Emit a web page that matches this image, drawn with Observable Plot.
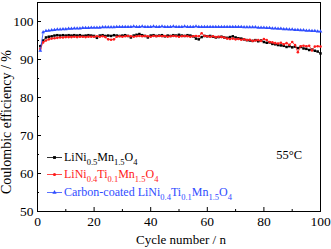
<!DOCTYPE html>
<html><head><meta charset="utf-8">
<script src="https://cdn.jsdelivr.net/npm/d3@7"></script>
<script src="https://cdn.jsdelivr.net/npm/@observablehq/plot@0.6"></script>
<style>
html,body{margin:0;padding:0;background:#fff;}
#chart{position:relative;width:331px;height:249px;}
</style></head>
<body><div id="chart"></div>
<script>
const cycles = d3.range(1, 101);
const lnmo = [93.5,95.0,95.8,96.0,96.1,96.3,96.4,96.3,96.4,96.3,
96.4,96.3,96.4,96.3,96.4,96.2,96.3,96.4,96.3,96.2,
95.7,96.3,96.4,96.2,96.3,96.2,96.4,96.3,96.2,96.3,
96.4,96.2,95.8,96.3,96.5,96.7,96.4,96.2,95.8,96.3,
96.4,96.2,96.3,96.4,96.1,96.3,96.2,96.4,96.3,96.5,
96.3,96.2,96.4,96.3,96.1,95.5,95.3,95.9,96.2,96.1,
96.2,96.0,95.8,95.9,96.0,95.8,95.7,95.9,96.1,95.8,
95.6,95.5,95.3,95.1,95.0,94.9,95.1,94.8,95.0,94.6,
94.4,94.5,94.1,94.0,93.8,93.7,93.6,93.3,93.5,93.2,
93.4,93.0,93.3,92.9,92.8,92.5,92.6,92.3,92.1,91.6];
const lntmo = [92.8,94.5,95.0,95.3,95.5,95.6,95.7,95.8,95.8,95.9,
95.9,95.9,96.0,95.9,96.0,96.0,95.9,96.0,96.0,96.0,
96.1,96.0,96.1,95.9,95.3,95.2,95.3,96.0,96.1,96.0,
96.1,96.2,96.1,96.0,96.1,96.2,96.1,96.2,96.1,96.0,
96.2,96.1,96.2,96.1,96.2,96.0,96.1,96.2,96.1,96.0,
96.1,96.2,96.1,96.0,96.1,96.2,96.1,96.9,96.2,96.1,
96.0,96.1,95.9,96.0,95.9,95.8,95.5,95.4,95.5,95.3,
95.4,95.2,95.3,95.1,95.2,94.9,95.0,95.1,94.9,95.4,
95.1,94.6,94.5,94.3,94.2,94.4,94.0,94.3,93.9,94.6,
93.8,91.9,93.5,93.6,93.5,93.6,92.4,93.4,93.5,93.4];
const carbon = [92.3,97.2,97.5,97.6,97.7,97.8,97.9,97.9,98.0,98.0,
98.1,98.1,98.2,98.2,98.2,98.3,98.3,98.3,98.4,98.4,
98.4,98.4,98.5,98.5,98.5,98.5,98.5,98.6,98.6,98.6,
98.6,98.6,98.6,98.7,98.6,98.6,98.7,98.6,98.6,98.6,
98.7,98.6,98.6,98.7,98.6,98.6,98.6,98.7,98.6,98.6,
98.6,98.7,98.6,98.6,98.6,98.7,98.6,98.6,98.6,98.6,
98.6,98.6,98.6,98.6,98.6,98.6,98.6,98.6,98.6,98.6,
98.6,98.6,98.5,98.5,98.5,98.5,98.5,98.4,98.4,98.4,
98.3,98.3,98.2,98.2,98.1,98.1,98.0,98.0,97.9,97.9,
97.8,97.8,97.7,97.7,97.6,97.6,97.5,97.5,97.4,97.4];
const xMajor = [0,20,40,60,80,100];
const xMinor = [10,30,50,70,90];
const yMajor = [50,60,70,80,90,100];
const yMinor = [55,65,75,85,95];
const xTitle = "Cycle number / n";
const yTitle = "Coulombic efficiency / %";
const tempLabel = "55°C";

const W = 331, H = 249, mL = 37, mR = 11, mT = 2, mB = 38;
const pw = W - mL - mR, ph = H - mT - mB;
const font = "Liberation Serif, Times New Roman, serif";
const cBlack = "#000000", cRed = "#ff1a1a", cBlue = "#2f4dff";

const mk = (arr) => cycles.map((c, i) => ({c, v: arr[i]}));
const d1 = mk(lnmo), d2 = mk(lntmo), d3b = mk(carbon);

const plot = Plot.plot({
  width: W, height: H,
  marginLeft: mL, marginRight: mR, marginTop: mT, marginBottom: mB,
  style: {fontFamily: font, fontSize: "13.5px", background: "#fff", color: "#000"},
  x: {domain: [0, 100]},
  y: {domain: [50, 105]},
  marks: [
    Plot.frame({stroke: "#000", strokeWidth: 1}),
    Plot.axisX({ticks: xMajor, tickSize: 0, tickPadding: 5, label: null, fontSize: 13.5}),
    Plot.axisY({ticks: yMajor, tickSize: 0, tickPadding: 4, label: null, fontSize: 13.5}),
    Plot.tickX(xMajor, {x: d => d, insetTop: ph - 4, stroke: "#000"}),
    Plot.tickX(xMinor, {x: d => d, insetTop: ph - 2, stroke: "#000"}),
    Plot.tickY(yMajor, {y: d => d, insetRight: pw - 4, stroke: "#000"}),
    Plot.tickY(yMinor, {y: d => d, insetRight: pw - 2, stroke: "#000"}),
    Plot.line(d1, {x: "c", y: "v", stroke: cBlack, strokeWidth: 0.8}),
    Plot.dot(d1, {x: "c", y: "v", symbol: "square", r: 1.4, fill: cBlack}),
    Plot.line(d2, {x: "c", y: "v", stroke: cRed, strokeWidth: 0.8}),
    Plot.dot(d2, {x: "c", y: "v", symbol: "circle", r: 1.3, fill: cRed}),
    Plot.line(d3b, {x: "c", y: "v", stroke: cBlue, strokeWidth: 0.8}),
    Plot.dot(d3b, {x: "c", y: "v", symbol: "triangle", r: 1.4, fill: cBlue})
  ]
});
document.getElementById("chart").appendChild(plot);

const svg = d3.select(plot);
const g = svg.append("g").attr("font-family", font).attr("font-size", 13);
g.append("text").attr("x", 181).attr("y", 244).attr("text-anchor", "middle").attr("fill", "#000").text(xTitle);
g.append("text").attr("transform", "translate(11,122) rotate(-90)").attr("text-anchor", "middle")
  .attr("font-size", 14).attr("fill", "#000").text(yTitle);
g.append("text").attr("x", 302).attr("y", 158.5).attr("text-anchor", "end").attr("font-size", 12.5).attr("fill", "#000").text(tempLabel);

const legend = [
  {color: cBlack, sym: "square", parts: [["LiNi"],["0.5",1],["Mn"],["1.5",1],["O"],["4",1]], y: 161},
  {color: cRed, sym: "circle", parts: [["LiNi"],["0.4",1],["Ti"],["0.1",1],["Mn"],["1.5",1],["O"],["4",1]], y: 178},
  {color: cBlue, sym: "triangle", parts: [["Carbon-coated LiNi"],["0.4",1],["Ti"],["0.1",1],["Mn"],["1.5",1],["O"],["4",1]], y: 196}
];
legend.forEach(L => {
  const ly = L.y - 3.5;
  g.append("line").attr("x1", 47).attr("x2", 62).attr("y1", ly).attr("y2", ly)
    .attr("stroke", L.color).attr("stroke-width", 0.8);
  const sym = L.sym === "square" ? d3.symbolSquare : L.sym === "circle" ? d3.symbolCircle : d3.symbolTriangle;
  g.append("path").attr("d", d3.symbol(sym, 8)()).attr("transform", `translate(54.5,${ly})`).attr("fill", L.color);
  const t = g.append("text").attr("x", 64).attr("y", L.y).attr("text-anchor", "start")
    .attr("font-size", 12).attr("fill", L.color);
  let sub = false;
  L.parts.forEach(([s, isSub]) => {
    const ts = t.append("tspan").text(s);
    if (isSub && !sub) { ts.attr("dy", 3.5).attr("font-size", 8.5); sub = true; }
    else if (isSub) { ts.attr("font-size", 8.5); }
    else if (!isSub && sub) { ts.attr("dy", -3.5); sub = false; }
  });
});
</script></body></html>
